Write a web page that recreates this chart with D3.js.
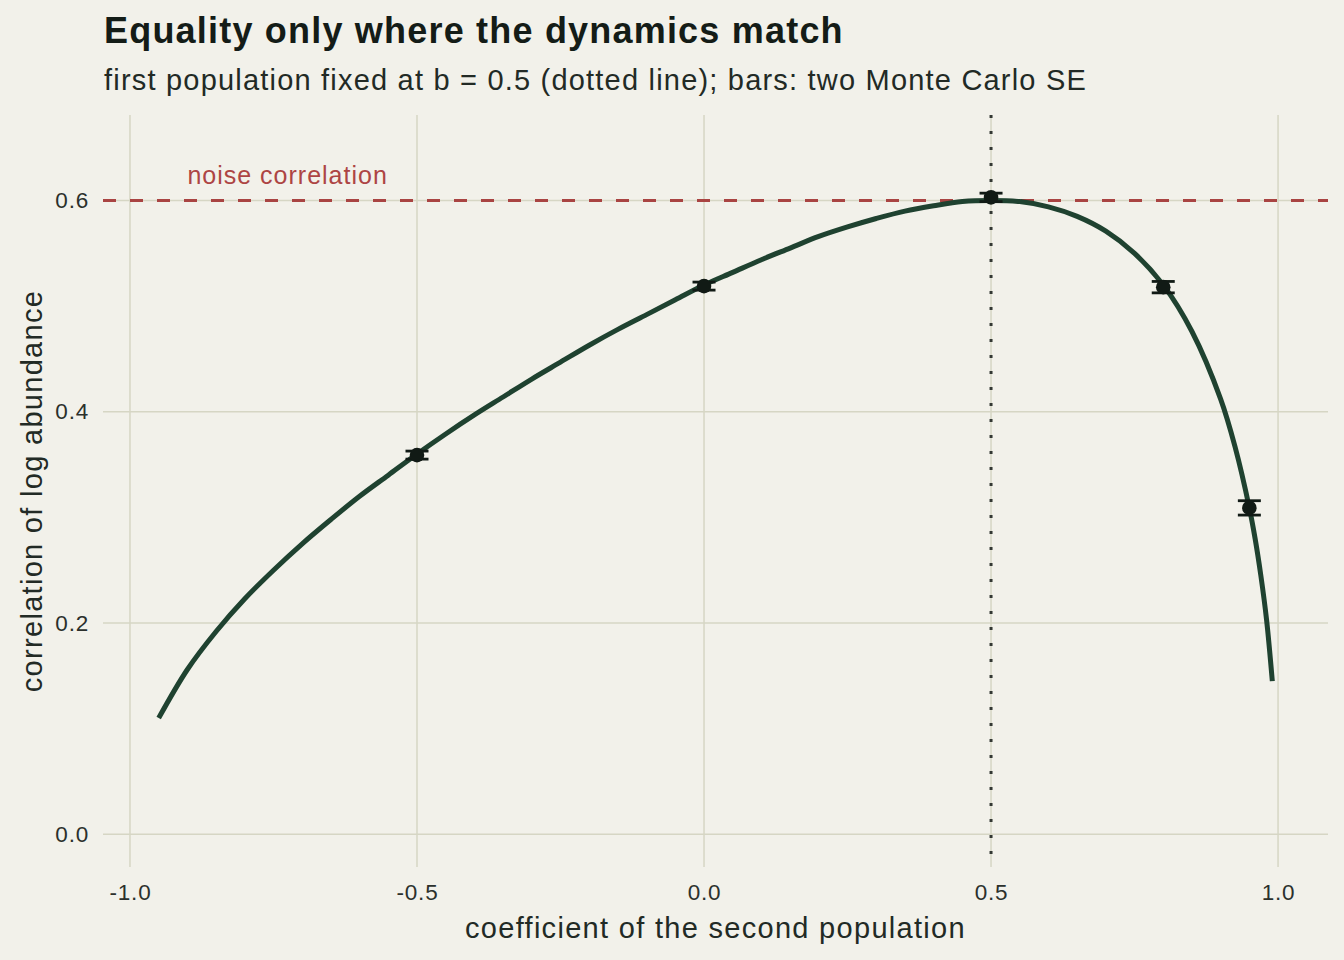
<!DOCTYPE html>
<html>
<head>
<meta charset="utf-8">
<script src="https://cdn.jsdelivr.net/npm/d3@7"></script>
<style>
  html, body { margin: 0; padding: 0; background: #f2f1ea; }
  svg { display: block; font-family: "Liberation Sans", Arial, sans-serif; }
</style>
</head>
<body>
<div id="chart"></div>
<script>
// coefficient of second population (x) and curve values
const curveX = [-0.95, -0.9, -0.85, -0.8, -0.75, -0.7, -0.65, -0.6, -0.55, -0.5,
    -0.45, -0.4, -0.35, -0.3, -0.25, -0.2, -0.15, -0.1, -0.05, 0,
    0.05, 0.1, 0.15, 0.2, 0.25, 0.3, 0.35, 0.4, 0.45, 0.5,
    0.55, 0.6, 0.65, 0.7, 0.75, 0.8, 0.85, 0.9, 0.925, 0.95,
    0.96, 0.97, 0.98, 0.99];
const curveY = [0.110, 0.156, 0.192, 0.223, 0.250, 0.275, 0.298, 0.320, 0.340, 0.360,
    0.379, 0.397, 0.414, 0.431, 0.447, 0.463, 0.478, 0.492, 0.506, 0.520,
    0.532, 0.544, 0.555, 0.566, 0.575, 0.583, 0.590, 0.595, 0.599, 0.600,
    0.599, 0.594, 0.585, 0.571, 0.550, 0.520, 0.476, 0.412, 0.367, 0.309,
    0.280, 0.245, 0.203, 0.145];

// Monte Carlo estimates and two-SE half widths
const simX = [-0.5, 0, 0.5, 0.8, 0.95];
const simY = [0.359, 0.519, 0.603, 0.518, 0.309];
const simErr = [0.0038, 0.0038, 0.004, 0.0054, 0.0068];

const noiseCorr = 0.6;
const fixedB = 0.5;

const xTicks = [-1.0, -0.5, 0.0, 0.5, 1.0];
const yTicks = [0.0, 0.2, 0.4, 0.6];

const width = 1344, height = 960;
const margin = { top: 115, right: 16, bottom: 93, left: 103 };
const font = '"Liberation Sans", Arial, sans-serif';

const svg = d3.select('#chart').append('svg')
    .attr('width', width)
    .attr('height', height);

svg.append('rect').attr('width', width).attr('height', height).attr('fill', '#f2f1ea');

const x = d3.scaleLinear().domain([-1.047, 1.087])
    .range([margin.left, width - margin.right]);
const y = d3.scaleLinear().domain([-0.031, 0.681])
    .range([height - margin.bottom, margin.top]);

// grid
const grid = svg.append('g').attr('stroke', '#d6d6c4').attr('stroke-width', 1.5);
grid.selectAll('.gx').data(xTicks).enter().append('line')
    .attr('x1', d => x(d)).attr('x2', d => x(d))
    .attr('y1', margin.top).attr('y2', height - margin.bottom);
grid.selectAll('.gy').data(yTicks).enter().append('line')
    .attr('x1', margin.left).attr('x2', width - margin.right)
    .attr('y1', d => y(d)).attr('y2', d => y(d));

// axes (labels only)
const fmt = d => d3.format('.1f')(d).replace('−', '-');
const xAxis = svg.append('g')
    .attr('transform', `translate(0,${height - margin.bottom})`)
    .call(d3.axisBottom(x).tickValues(xTicks).tickFormat(fmt).tickSize(0).tickPadding(17));
const yAxis = svg.append('g')
    .attr('transform', `translate(${margin.left},0)`)
    .call(d3.axisLeft(y).tickValues(yTicks).tickFormat(fmt).tickSize(0).tickPadding(14));
[xAxis, yAxis].forEach(a => {
    a.select('.domain').remove();
    a.selectAll('text').attr('fill', '#2b302c')
        .style('font-size', '22.5px').style('letter-spacing', '0.8px')
        .style('font-family', font);
});

// noise correlation reference
svg.append('line')
    .attr('x1', margin.left).attr('x2', width - margin.right)
    .attr('y1', y(noiseCorr)).attr('y2', y(noiseCorr))
    .attr('stroke', '#a94442').attr('stroke-width', 3)
    .attr('stroke-dasharray', '13,14');
svg.append('text')
    .attr('x', x(-0.9)).attr('y', y(noiseCorr) - 17)
    .attr('fill', '#ad4544').style('font-size', '25px').style('letter-spacing', '1px')
    .text('noise correlation');

// fixed b
svg.append('line')
    .attr('x1', x(fixedB)).attr('x2', x(fixedB))
    .attr('y1', margin.top).attr('y2', height - margin.bottom)
    .attr('stroke', '#333833').attr('stroke-width', 3)
    .attr('stroke-dasharray', '3,13');

// theoretical curve
const line = d3.line().x(d => x(d[0])).y(d => y(d[1])).curve(d3.curveCatmullRom.alpha(0.5));
svg.append('path')
    .datum(d3.zip(curveX, curveY))
    .attr('d', line)
    .attr('fill', 'none')
    .attr('stroke', '#1f4230')
    .attr('stroke-width', 5);

// simulation points with error bars
const sims = simX.map((v, i) => ({ x: v, y: simY[i], e: simErr[i] }));
const bars = svg.append('g').attr('stroke', '#111a15').attr('stroke-width', 2.8);
bars.selectAll('.v').data(sims).enter().append('line')
    .attr('x1', d => x(d.x)).attr('x2', d => x(d.x))
    .attr('y1', d => y(d.y - d.e)).attr('y2', d => y(d.y + d.e));
bars.selectAll('.t').data(sims).enter().append('line')
    .attr('x1', d => x(d.x) - 11.5).attr('x2', d => x(d.x) + 11.5)
    .attr('y1', d => y(d.y + d.e)).attr('y2', d => y(d.y + d.e));
bars.selectAll('.b').data(sims).enter().append('line')
    .attr('x1', d => x(d.x) - 11.5).attr('x2', d => x(d.x) + 11.5)
    .attr('y1', d => y(d.y - d.e)).attr('y2', d => y(d.y - d.e));
svg.append('g').selectAll('circle').data(sims).enter().append('circle')
    .attr('cx', d => x(d.x)).attr('cy', d => y(d.y))
    .attr('r', 7.3).attr('fill', '#111a15');

// titles
svg.append('text').attr('x', 104).attr('y', 43)
    .attr('fill', '#141c17').style('font-size', '36px').style('font-weight', 'bold')
    .style('letter-spacing', '1.2px')
    .text('Equality only where the dynamics match');
svg.append('text').attr('x', 104).attr('y', 90)
    .attr('fill', '#222a25').style('font-size', '29px').style('letter-spacing', '1.2px')
    .text('first population fixed at b = 0.5 (dotted line); bars: two Monte Carlo SE');
svg.append('text')
    .attr('x', (margin.left + width - margin.right) / 2).attr('y', 938)
    .attr('text-anchor', 'middle')
    .attr('fill', '#222a25').style('font-size', '29px').style('letter-spacing', '1.3px')
    .text('coefficient of the second population');
svg.append('text')
    .attr('transform', `translate(42,${(margin.top + height - margin.bottom) / 2}) rotate(-90)`)
    .attr('text-anchor', 'middle')
    .attr('fill', '#222a25').style('font-size', '29px').style('letter-spacing', '1.3px')
    .text('correlation of log abundance');
</script>
</body>
</html>
